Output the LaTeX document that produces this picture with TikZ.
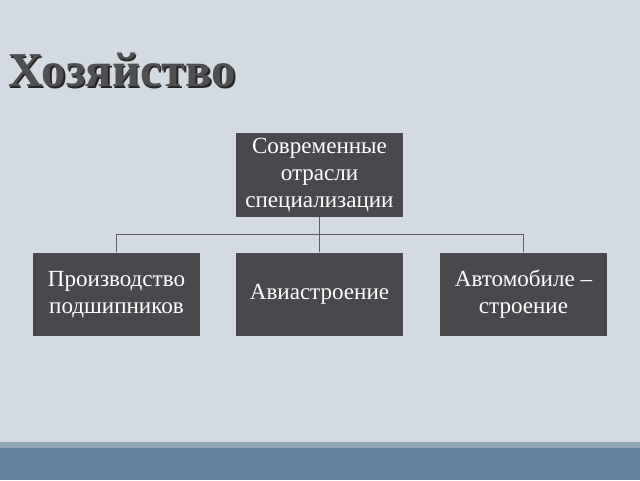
\documentclass[tikz,border=0pt]{standalone}
\usepackage{fontspec}
\setmainfont{Liberation Serif}
\definecolor{bg}{HTML}{D3DAE1}
\definecolor{boxfill}{HTML}{4A484D}
\definecolor{barlight}{HTML}{91A8B8}
\definecolor{bardark}{HTML}{62819A}
\definecolor{linec}{HTML}{5E5E62}
\definecolor{titlec}{HTML}{505052}
\begin{document}
\begin{tikzpicture}[x=0.75pt,y=-0.75pt,
  boxnode/.style={fill=boxfill,text=white,minimum width=167*0.75pt,minimum height=83.5*0.75pt,
    inner sep=0pt,align=center,font=\fontsize{17.3}{20}\selectfont},
  conn/.style={draw=linec,line width=1pt}]
\fill[bg] (0,0) rectangle (640,480);
\useasboundingbox (0,0) rectangle (640,480);
\fill[barlight] (0,442) rectangle (640,448);
\fill[bardark] (0,448) rectangle (640,480);
% title
\node[anchor=base west,inner sep=0pt,text=black!85,font=\fontsize{36.5}{40}\selectfont\bfseries] (titleshadow) at (9.5,88) {Хозяйство};
\node[anchor=base west,inner sep=0pt,text=titlec,font=\fontsize{36.5}{40}\selectfont\bfseries] (title) at (8,86.5) {Хозяйство};
% boxes
\node[boxnode] (top) at (319.5,175) {Современные\\отрасли\\специализации};
\node[boxnode] (left) at (116.5,294.5) {Производство\\подшипников};
\node[boxnode] (mid) at (319.5,294.5) {Авиастроение};
\node[boxnode] (right) at (523.5,294.5) {Автомобиле –\\строение};
% connectors
\coordinate (hub) at (319.5,234.5);
\draw[conn] (top.south) -- (hub);
\draw[conn] (hub) -| (left.north);
\draw[conn] (hub) -| (right.north);
\draw[conn] (hub) -- (mid.north);
\end{tikzpicture}
\end{document}
